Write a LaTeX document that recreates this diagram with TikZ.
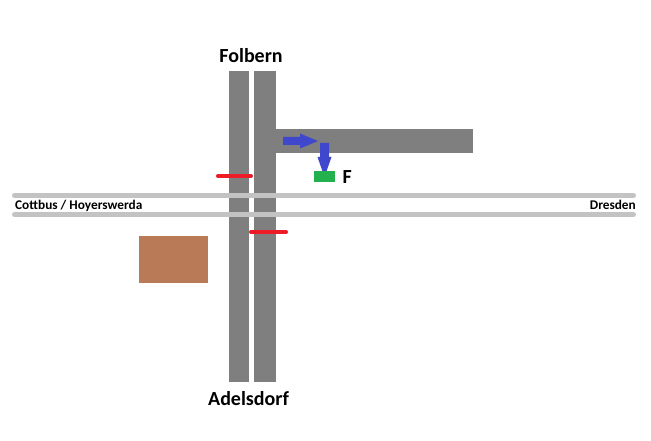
\documentclass[tikz,border=0pt]{standalone}
\usepackage{fontspec}
\setmainfont{Carlito}
\definecolor{road}{HTML}{7F7F7F}
\definecolor{rail}{HTML}{C3C3C3}
\definecolor{barrier}{HTML}{ED1C24}
\definecolor{arrowblue}{HTML}{3F48CC}
\definecolor{signalgreen}{HTML}{22B14C}
\definecolor{building}{HTML}{B97A57}
\tikzset{
  roadpart/.style={fill=road,draw=none},
  railline/.style={draw=rail,line width=5pt,line cap=round},
  barrierline/.style={draw=barrier,line width=4pt,line cap=round},
  bluearrow/.style={fill=arrowblue,draw=none},
  biglabel/.style={font=\bfseries\fontsize{20}{24}\selectfont,inner sep=0pt,anchor=base},
  smalllabel/.style={font=\bfseries\fontsize{13.3}{16}\selectfont,inner sep=0pt},
}
\begin{document}
\begin{tikzpicture}[x=1pt,y=-1pt]
\useasboundingbox (0,0) rectangle (651,441);
\fill[white] (0,0) rectangle (651,441);
% roads
\fill[roadpart] (229,71) rectangle (249,382);
\fill[roadpart] (254,71) rectangle (276,382);
\fill[roadpart] (276,129) rectangle (473,153);
% rails
\draw[railline] (14.5,195.5) -- (633.5,195.5);
\draw[railline] (14.5,214.5) -- (633.5,214.5);
% barriers
\draw[barrierline] (218,176) -- (251,176);
\draw[barrierline] (251,232) -- (286,232);
% arrows
\fill[bluearrow] (283,137) -- (300,137) -- (300,133.5) -- (318,141) -- (300,148.5) -- (300,145) -- (283,145) -- cycle;
\fill[bluearrow] (320,143) -- (329,143) -- (329,157) -- (331.5,157) -- (324.5,177) -- (317.5,157) -- (320,157) -- cycle;
% signal
\fill[signalgreen] (314,171) rectangle (335,182.5);
% building
\fill[building] (139,236) rectangle (208,283);
% labels
\node[biglabel] (folbern) at (251,62.5) {Folbern};
\node[biglabel] (adelsdorf) at (248.5,405.5) {Adelsdorf};
\node[biglabel,anchor=base west] (f) at (342.5,183) {F};
\node[smalllabel,anchor=base west] (cottbus) at (15,209.5) {Cottbus / Hoyerswerda};
\node[smalllabel,anchor=base east] (dresden) at (636,209.5) {Dresden};
\end{tikzpicture}
\end{document}
